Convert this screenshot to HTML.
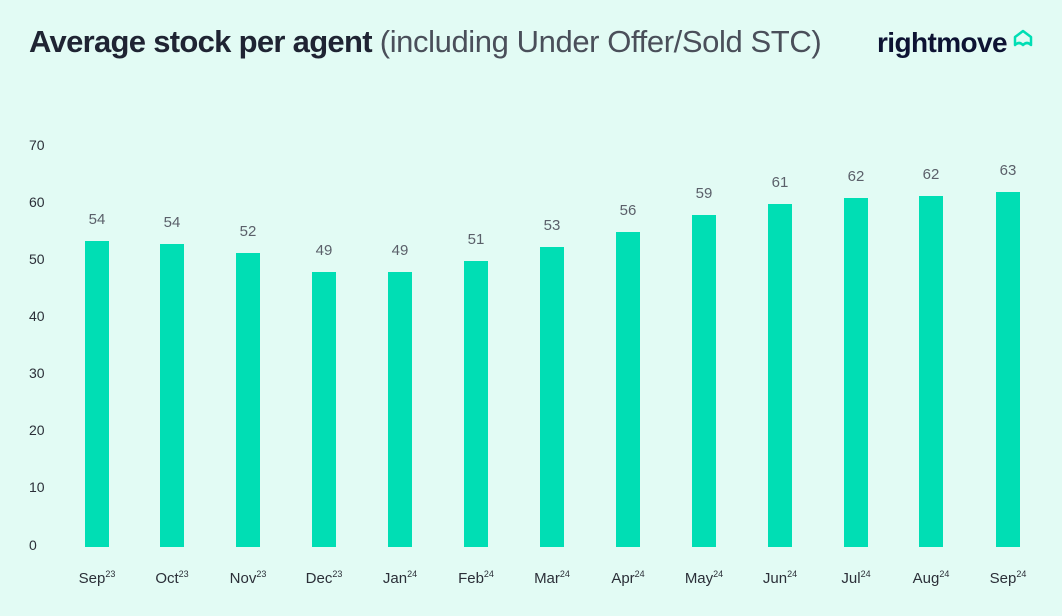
<!DOCTYPE html>
<html><head><style>
html,body{margin:0;padding:0}
body{width:1062px;height:616px;background:#e2fbf4;position:relative;overflow:hidden;font-family:"Liberation Sans",sans-serif}
.t{position:absolute;left:29px;top:24px;font-size:31px;color:#1f2433;white-space:nowrap;letter-spacing:-0.7px}
.t b{font-weight:700}
.t span{font-weight:400;color:#4a4f5a;letter-spacing:-0.4px}
.logo{position:absolute;left:877px;top:27px;font-size:28px;font-weight:700;color:#0d1333;letter-spacing:-0.6px}
.yl{position:absolute;left:29px;font-size:14px;color:#2b2f38}
.bar{position:absolute;width:24px;background:#00deb4}
.v{position:absolute;width:50px;text-align:center;font-size:15px;color:#5b606a}
.m{position:absolute;top:569px;width:80px;text-align:center;font-size:15px;color:#2b2f38}
.m sup{font-size:9px;vertical-align:6px}
</style></head><body>
<div class="t"><b>Average stock per agent</b> <span>(including Under Offer/Sold STC)</span></div>
<div class="logo">rightmove</div>
<svg style="position:absolute;left:1012px;top:29px" width="22" height="20" viewBox="0 0 22 20"><path d="M3 16 V8 L11 2 L19 8 V16 Q15 12 11 16 Q7 12 3 16Z" fill="none" stroke="#00deb4" stroke-width="2.5" stroke-linejoin="round"/></svg>
<div class="yl" style="top:137px">70</div>
<div class="yl" style="top:194px">60</div>
<div class="yl" style="top:251px">50</div>
<div class="yl" style="top:308px">40</div>
<div class="yl" style="top:365px">30</div>
<div class="yl" style="top:422px">20</div>
<div class="yl" style="top:479px">10</div>
<div class="yl" style="top:537px">0</div>
<div id="c"></div>
<script>
var L=[85,160,236,312,388,464,540,616,692,768,844,919,996];
var T=[241,244,253,272,272,261,247,232,215,204,198,196,192];
var V=[54,54,52,49,49,51,53,56,59,61,62,62,63];
var M=[["Sep","23"],["Oct","23"],["Nov","23"],["Dec","23"],["Jan","24"],["Feb","24"],["Mar","24"],["Apr","24"],["May","24"],["Jun","24"],["Jul","24"],["Aug","24"],["Sep","24"]];
var h="";
for(var i=0;i<13;i++){
h+='<div class="bar" style="left:'+L[i]+'px;top:'+T[i]+'px;height:'+(547-T[i])+'px"></div>';
h+='<div class="v" style="left:'+(L[i]-13)+'px;top:'+(T[i]-30)+'px">'+V[i]+'</div>';
h+='<div class="m" style="left:'+(L[i]-28)+'px">'+M[i][0]+'<sup>'+M[i][1]+'</sup></div>';
}
document.getElementById("c").innerHTML=h;
</script>
</body></html>
